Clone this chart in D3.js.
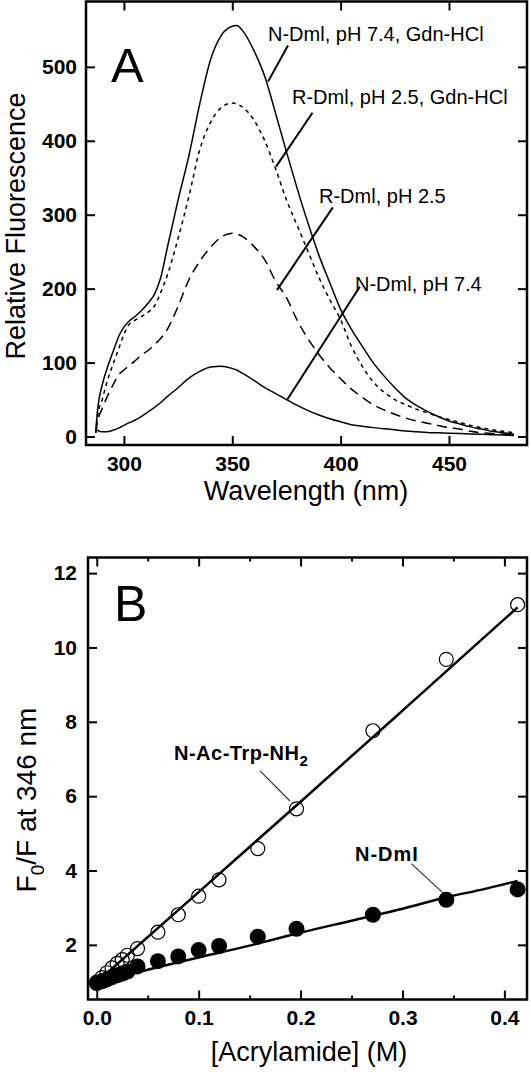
<!DOCTYPE html>
<html><head><meta charset="utf-8">
<script src="https://cdn.jsdelivr.net/npm/d3@7/dist/d3.min.js"></script>
<style>
body{margin:0;background:#fff;}
svg{display:block;font-family:"Liberation Sans",Arial,Helvetica,sans-serif;}
</style></head>
<body><svg id="c" width="531" height="1072"></svg>
<script>
// ---------- Panel A data ----------
const wavelength = [287,288,290,292,295,298,300,302,305,308,311,314,317,320,325,330,335,340,345,350,352,355,360,365,370,375,380,385,390,395,400,405,410,415,420,425,430,435,440,445,450,455,460,465,470,475,480];
const nDmlGdn = [8,40,70,90,115,138,148,155,162,170,180,192,215,255,320,380,450,510,543,555,556,548,522,487,437,385,335,288,245,208,172,145,122,100,82,66,52,42,34,27,21,17,13,10,7,5,3];
const rDmlGdn = [5,30,50,72,98,122,138,150,157,162,168,176,195,218,268,325,388,425,445,451,450,445,428,400,362,320,285,250,215,185,158,122,95,74,60,50,43,37,32,27,23,19,15,12,9,7,5];
const rDml = [5,22,38,52,70,85,90,95,102,110,116,124,133,145,176,212,237,256,270,275,274,270,257,239,210,188,157,132,111,93,78,64,53,43,36,30,25,21,18,15,12,10,7,5,4,3,2];
const nDml = [10,8,6.5,6.5,8.5,12,15,18,22,27,33,39,46,54,66,79,88,94,95,92,90,85,76,66,58,50,42,35,29,24,20,16,14,12,10.5,9,7.5,6.5,5.5,5,4.5,4,3.5,3,2.5,2,1.5];
const seriesNamesA = ["N-Dml, pH 7.4, Gdn-HCl","R-Dml, pH 2.5, Gdn-HCl","R-Dml, pH 2.5","N-Dml, pH 7.4"];
const xTicksA = [300,350,400,450];
const yTicksA = [0,100,200,300,400,500];
// leader lines: [wl0, val0, wl1, val1]
const leadersA = [[375.7,529,366.5,480],[387.0,438,370.2,365],[396.4,310,370.6,198],[408.9,203,375.4,50]];

// ---------- Panel B data ----------
const acrylamide = [0,0.005,0.01,0.015,0.02,0.025,0.03,0.04,0.06,0.08,0.1,0.12,0.158,0.196,0.271,0.343,0.413];
const trpOpen = [1.0,1.12,1.25,1.38,1.5,1.6,1.72,1.9,2.34,2.81,3.31,3.75,4.59,5.66,7.76,9.68,11.15];
const dmlFilled = [0.97,1.02,1.07,1.13,1.18,1.23,1.28,1.42,1.56,1.69,1.86,1.97,2.22,2.43,2.81,3.21,3.49];
const trpFitX = [0,0.1,0.2,0.3,0.413];
const trpFitY = [1.0,3.42,5.85,8.3,11.08];
const dmlFitX = [0,0.05,0.1,0.15,0.2,0.25,0.3,0.343,0.38,0.413];
const dmlFitY = [0.95,1.33,1.66,1.98,2.33,2.65,2.97,3.28,3.5,3.72];
const xTicksB = [0.0,0.1,0.2,0.3,0.4];
const xMinorB = [0.05,0.15,0.25,0.35];
const yTicksB = [2,4,6,8,10,12];
const leadersB = [[0.1602,6.68,0.1896,5.87],[0.309,4.18,0.340,3.39]];

const svg = d3.select("#c");

function frameAxes(g, x, y, xt, yt, xfmt, yfmt, opts){
  const [x0,x1] = x.range(), [y0,y1] = y.range();
  const tl = 9;
  const ax = (gen, tr) => g.append("g").attr("transform", tr).call(gen);
  ax(d3.axisBottom(x).tickValues(xt).tickSize(-tl).tickPadding(opts.bpad).tickFormat(xfmt), `translate(0,${y0})`);
  ax(d3.axisTop(x).tickValues(xt).tickSize(-tl).tickFormat(""), `translate(0,${y1})`);
  ax(d3.axisLeft(y).tickValues(yt).tickSize(-tl).tickPadding(opts.lpad).tickFormat(yfmt), `translate(${x0},0)`);
  ax(d3.axisRight(y).tickValues(yt).tickSize(-tl).tickFormat(""), `translate(${x1},0)`);
  if (opts.minor){
    ax(d3.axisBottom(x).tickValues(opts.minor).tickSize(-4).tickFormat(""), `translate(0,${y0})`);
    ax(d3.axisTop(x).tickValues(opts.minor).tickSize(-4).tickFormat(""), `translate(0,${y1})`);
  }
  g.selectAll(".domain").remove();
  g.selectAll(".tick line").attr("stroke","#000").attr("stroke-width",2);
  g.selectAll(".tick text").attr("fill","#000").attr("font-size",opts.fs).attr("font-weight","bold")
   .attr("font-family",'"Liberation Sans",Arial,sans-serif');
  g.append("rect").attr("x",x0).attr("y",y1).attr("width",x1-x0).attr("height",y0-y1)
   .attr("fill","none").attr("stroke","#000").attr("stroke-width",2.5);
}

// ---------- Panel A ----------
const xA = d3.scaleLinear().domain([282.5,486]).range([86,527]);
const yA = d3.scaleLinear().domain([-11.5,588.4]).range([445,1.5]);
const gA = svg.append("g");
frameAxes(gA, xA, yA, xTicksA, yTicksA, d3.format("d"), d3.format("d"), {bpad:11, lpad:9, fs:21});

const lineA = d3.line().x((d,i)=>xA(wavelength[i])).y(d=>yA(d)).curve(d3.curveMonotoneX);
const styles = [null,"4,4","10,6",null];
[nDmlGdn,rDmlGdn,rDml,nDml].forEach((s,i)=>{
  gA.append("path").attr("d",lineA(s)).attr("fill","none").attr("stroke","#000")
    .attr("stroke-width",1.5).attr("stroke-dasharray",styles[i]);
});
leadersA.forEach(l=>{
  gA.append("line").attr("x1",xA(l[0])).attr("y1",yA(l[1])).attr("x2",xA(l[2])).attr("y2",yA(l[3]))
    .attr("stroke","#000").attr("stroke-width",2);
});
const labPosA = [[268,41],[292,104],[319,203],[355,291]];
seriesNamesA.forEach((t,i)=>{
  gA.append("text").attr("x",labPosA[i][0]).attr("y",labPosA[i][1]).attr("font-size",20).text(t);
});
gA.append("text").attr("x",111).attr("y",82).attr("font-size",49).text("A");
gA.append("text").attr("x",306).attr("y",500).attr("text-anchor","middle").attr("font-size",27).text("Wavelength (nm)");
gA.append("text").attr("transform","translate(25,226) rotate(-90)").attr("text-anchor","middle").attr("font-size",27).text("Relative Fluorescence");

// ---------- Panel B ----------
const xB = d3.scaleLinear().domain([-0.0086,0.4222]).range([88,527]);
const yB = d3.scaleLinear().domain([0.53,12.42]).range([999.5,557.5]);
const gB = svg.append("g");
frameAxes(gB, xB, yB, xTicksB, yTicksB, d3.format(".1f"), d3.format("d"), {bpad:11, lpad:11, fs:21, minor:xMinorB});

const fitLine = d3.line().x(d=>xB(d[0])).y(d=>yB(d[1])).curve(d3.curveMonotoneX);
gB.append("path").attr("d",fitLine(trpFitX.map((x,i)=>[x,trpFitY[i]]))).attr("fill","none").attr("stroke","#000").attr("stroke-width",2.5);
gB.append("path").attr("d",fitLine(dmlFitX.map((x,i)=>[x,dmlFitY[i]]))).attr("fill","none").attr("stroke","#000").attr("stroke-width",2.5);
gB.selectAll(".open").data(acrylamide).enter().append("circle")
  .attr("cx",d=>xB(d)).attr("cy",(d,i)=>yB(trpOpen[i])).attr("r",7)
  .attr("fill","none").attr("stroke","#000").attr("stroke-width",1.2);
gB.selectAll(".filled").data(acrylamide).enter().append("circle")
  .attr("cx",d=>xB(d)).attr("cy",(d,i)=>yB(dmlFilled[i])).attr("r",8).attr("fill","#000");
leadersB.forEach(l=>{
  gB.append("line").attr("x1",xB(l[0])).attr("y1",yB(l[1])).attr("x2",xB(l[2])).attr("y2",yB(l[3]))
    .attr("stroke","#333").attr("stroke-width",1.2);
});
const t1 = gB.append("text").attr("x",174).attr("y",760).attr("font-size",20).attr("font-weight","bold").attr("letter-spacing",0.5);
t1.append("tspan").text("N-Ac-Trp-NH");
t1.append("tspan").attr("font-size",15).attr("dy",6).text("2");
gB.append("text").attr("x",355).attr("y",861).attr("font-size",20).attr("font-weight","bold").attr("letter-spacing",1).text("N-DmI");
gB.append("text").attr("x",114).attr("y",621).attr("font-size",50).text("B");
gB.append("text").attr("x",309).attr("y",1061).attr("text-anchor","middle").attr("font-size",27).text("[Acrylamide] (M)");
const yt = gB.append("text").attr("transform","translate(36,800) rotate(-90)").attr("text-anchor","middle").attr("font-size",28);
yt.append("tspan").text("F");
yt.append("tspan").attr("font-size",19).attr("dy",8).text("0");
yt.append("tspan").attr("dy",-8).text("/F at 346 nm");
</script></body></html>
